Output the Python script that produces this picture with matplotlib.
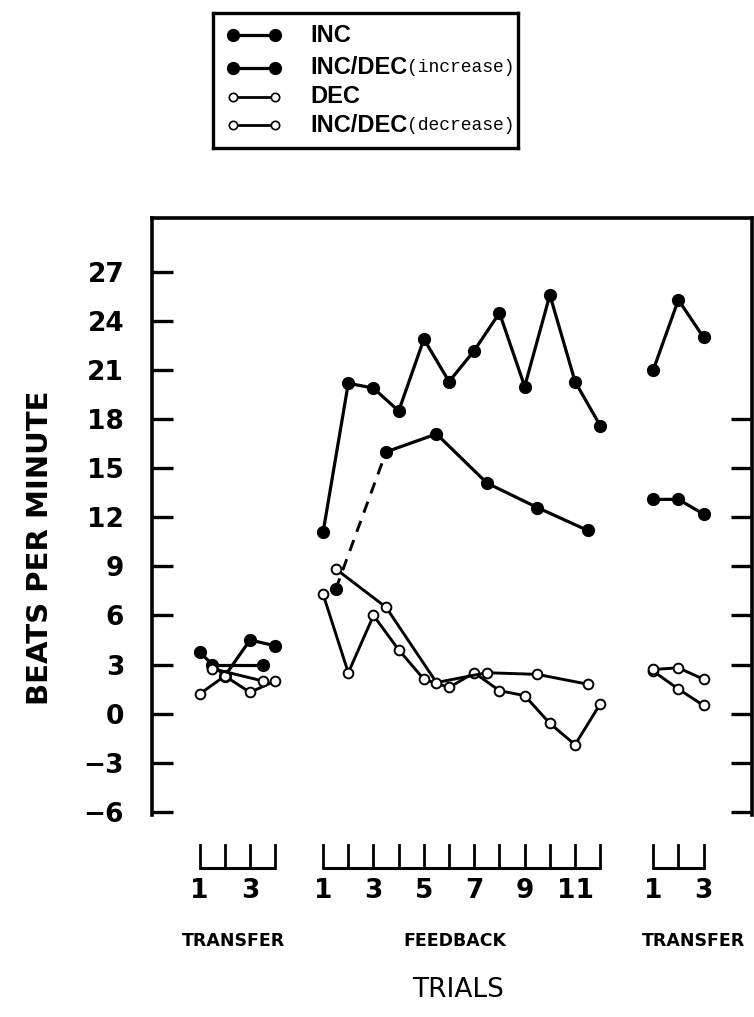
import numpy as np
import matplotlib.pyplot as plt
from matplotlib.lines import Line2D

# -----------------------
# Data (beats per minute)
# -----------------------
pre_trials = [1, 2, 3, 4]
pre_pairs = [1.5, 3.5]
fb_trials = list(range(1, 13))
fb_pairs = [1.5, 3.5, 5.5, 7.5, 9.5, 11.5]
post_trials = [1, 2, 3]

inc_pre = [3.75, 2.3, 4.5, 4.15]
inc_fb = [11.1, 20.2, 19.9, 18.5, 22.9, 20.3, 22.2, 24.5, 20.0, 25.6, 20.3, 17.6]
inc_post = [21.0, 25.3, 23.0]

incdec_up_pre = [3.0, 3.0]
incdec_up_fb = [7.6, 16.0, 17.1, 14.1, 12.6, 11.2]
incdec_up_post = [13.1, 13.1, 12.2]

dec_pre = [1.2, 2.3, 1.3, 2.0]
dec_fb = [7.3, 2.5, 6.0, 3.9, 2.1, 1.6, 2.5, 1.4, 1.1, -0.6, -1.9, 0.6]
dec_post = [2.6, 1.5, 0.5]

incdec_dn_pre = [2.75, 2.0]
incdec_dn_fb = [8.85, 6.5, 1.9, 2.5, 2.4, 1.8]
incdec_dn_post = [2.7, 2.8, 2.1]

y_ticks = [-6, -3, 0, 3, 6, 9, 12, 15, 18, 21, 24, 27]
right_ticks = [-6, -3, 0, 3, 6, 9, 12, 15, 18]

# offsets that place each block of trials along one shared x axis
PRE_OFF, FB_OFF, POST_OFF = 0.1, 5.0, 18.1

SANS = 'Liberation Sans'
WIDE = 'DejaVu Sans'
MONO = 'Liberation Mono'
plt.rcParams['font.family'] = [SANS, 'DejaVu Sans']


def sx(trials, off):
    return [t + off for t in trials]


def filled(ax, x, y):
    ax.plot(x, y, '-', color='black', lw=2.3, marker='o', ms=8.5,
            mfc='black', mec='black')


def hollow(ax, x, y):
    ax.plot(x, y, '-', color='black', lw=2.1, marker='o', ms=7,
            mfc='white', mec='black', mew=1.4)


fig = plt.figure(figsize=(7.54, 10.17), dpi=100)
ax = fig.add_axes([0.2016, 0.1986, 0.7957, 0.587])

# INC
for tr, off, vals in [(pre_trials, PRE_OFF, inc_pre), (fb_trials, FB_OFF, inc_fb),
                      (post_trials, POST_OFF, inc_post)]:
    filled(ax, sx(tr, off), vals)

# INC/DEC (increase): first feedback segment is dashed
filled(ax, sx(pre_pairs, PRE_OFF), incdec_up_pre)
xs = sx(fb_pairs, FB_OFF)
ax.plot(xs[:2], incdec_up_fb[:2], color='black', lw=2.1, ls=(0, (4, 3)))
ax.plot(xs[1:], incdec_up_fb[1:], color='black', lw=2.3)
ax.plot(xs, incdec_up_fb, 'o', color='black', ms=8.5)
filled(ax, sx(post_trials, POST_OFF), incdec_up_post)

# DEC and INC/DEC (decrease)
for tr, off, vals in [(pre_trials, PRE_OFF, dec_pre), (fb_trials, FB_OFF, dec_fb),
                      (post_trials, POST_OFF, dec_post),
                      (pre_pairs, PRE_OFF, incdec_dn_pre), (fb_pairs, FB_OFF, incdec_dn_fb),
                      (post_trials, POST_OFF, incdec_dn_post)]:
    hollow(ax, sx(tr, off), vals)

ax.set_xlim(-0.79, 23.02)
ax.set_ylim(-6.2, 30.3)
ax.set_xticks([])
ax.set_yticks(y_ticks)
ax.set_yticklabels([str(v).replace('-', '\u2212') for v in y_ticks],
                   fontsize=19, fontweight='bold', family=WIDE)
ax.tick_params(axis='y', direction='in', length=15, width=2.4, pad=20)
for s in ['left', 'top', 'right']:
    ax.spines[s].set_linewidth(2.6)
ax.spines['bottom'].set_visible(False)

ax2 = ax.twinx()
ax2.set_ylim(ax.get_ylim())
ax2.set_yticks(right_ticks)
ax2.set_yticklabels([])
ax2.tick_params(axis='y', direction='in', length=15, width=2.4)
for s in ax2.spines.values():
    s.set_visible(False)

ax.set_ylabel('BEATS PER MINUTE', fontsize=21, fontweight='bold', family=WIDE)
ax.yaxis.set_label_coords(-0.163, 0.447)

# trial brackets under the plot
tr_x = ax.get_xaxis_transform()
y_top, y_bot, y_num, y_sec, y_title = -0.050, -0.089, -0.128, -0.211, -0.293
for trials, off, labels in [(pre_trials, PRE_OFF, [1, 3]),
                            (fb_trials, FB_OFF, [1, 3, 5, 7, 9, 11]),
                            (post_trials, POST_OFF, [1, 3])]:
    xs = sx(trials, off)
    ax.plot([xs[0], xs[-1]], [y_bot, y_bot], color='black', lw=2.2,
            transform=tr_x, clip_on=False, solid_capstyle='butt')
    for x in xs:
        ax.plot([x, x], [y_bot, y_top], color='black', lw=2.0,
                transform=tr_x, clip_on=False)
    for t in labels:
        ax.text(t + off, y_num, str(t), transform=tr_x, ha='center', va='center',
                fontsize=19, fontweight='bold', family=WIDE)

for x, name in [(2.43, 'TRANSFER'), (11.24, 'FEEDBACK'), (20.68, 'TRANSFER')]:
    ax.text(x, y_sec, name, transform=tr_x, ha='center', va='center',
            fontsize=12.5, fontweight='bold', family=WIDE)
ax.text(11.36, y_title, 'TRIALS', transform=tr_x, ha='center', va='center',
        fontsize=19, family=WIDE)

# legend box
lax = fig.add_axes([0.2825, 0.8545, 0.4045, 0.1327])
lax.set_xlim(0, 1)
lax.set_ylim(0, 1)
lax.set_xticks([])
lax.set_yticks([])
for s in lax.spines.values():
    s.set_linewidth(2.4)

rows = [0.837, 0.593, 0.378, 0.170]
entries = [('INC', '', True), ('INC/DEC', '(increase)', True),
           ('DEC', '', False), ('INC/DEC', '(decrease)', False)]
for yy, (main, sub, solid) in zip(rows, entries):
    if solid:
        lax.add_line(Line2D([0.066, 0.203], [yy, yy], color='black', lw=2.3,
                            marker='o', ms=8.5, mfc='black'))
    else:
        lax.add_line(Line2D([0.066, 0.203], [yy, yy], color='black', lw=2.0,
                            marker='o', ms=6, mfc='white', mew=1.2))
    lax.text(0.318, yy, main, ha='left', va='center', fontsize=17,
             fontweight='bold')
    if sub:
        lax.text(0.636, yy, sub, ha='left', va='center', fontsize=13,
                 family=MONO)

fig.savefig('out.png', dpi=100)
